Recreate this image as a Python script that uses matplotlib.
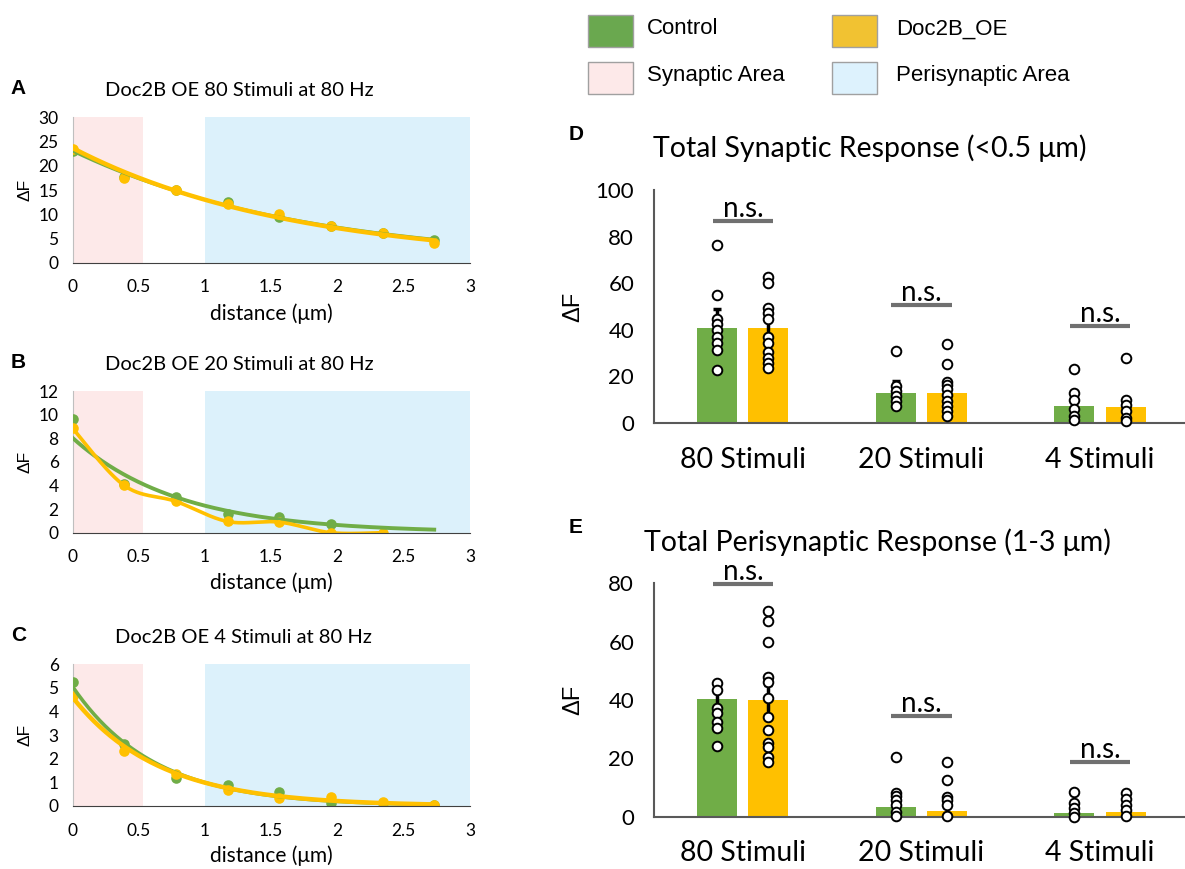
import numpy as np
import matplotlib
matplotlib.use('Agg')
import matplotlib.pyplot as plt
from matplotlib.patches import Rectangle

# ---- data ----
distance = [0, 0.39, 0.78, 1.17, 1.56, 1.95, 2.34, 2.73]

a_ctrl = [23.0, 17.6, 14.9, 12.5, 9.4, 7.6, 6.1, 4.7]
a_oe = [23.4, 17.4, 14.9, 12.2, 10.0, 7.6, 6.1, 4.1]
b_ctrl = [9.6, 4.1, 3.0, 1.6, 1.3, 0.7]
b_oe = [8.85, 4.0, 2.65, 0.95, 0.9, 0.0, 0.0]
c_ctrl = [5.25, 2.6, 1.17, 0.89, 0.6, 0.11, 0.14, 0.06]
c_oe = [4.66, 2.34, 1.34, 0.68, 0.35, 0.39, 0.18, 0.04]

categories = ['80 Stimuli', '20 Stimuli', '4 Stimuli']

d_ctrl = [40.7, 13.1, 7.4]
d_oe = [41.0, 12.9, 6.9]
d_ctrl_sem = [8.2, 5.0, 2.0]
d_oe_sem = [4.0, 3.0, 2.0]
d_ctrl_dots = [[76.4, 54.9, 44.7, 42.7, 40.0, 37.1, 34.3, 31.4, 22.8],
               [31.1, 15.7, 13.8, 11.8, 9.6, 7.5],
               [23.1, 13.0, 9.8, 6.0, 3.1, 1.5]]
d_oe_dots = [[62.8, 60.0, 49.3, 47.1, 44.6, 37.1, 34.3, 30.7, 28.1, 25.7, 23.6],
             [34.0, 25.3, 17.8, 16.4, 14.6, 12.1, 9.6, 7.4, 5.0, 3.1],
             [27.8, 10.0, 7.9, 5.0, 2.0, 1.0]]
d_ns = [86.7, 50.6, 41.7]

e_ctrl = [40.2, 3.4, 1.4]
e_oe = [40.0, 1.95, 1.5]
e_ctrl_sem = [3.5, 1.5, 0.8]
e_oe_sem = [5.0, 1.2, 0.8]
e_ctrl_dots = [[46.0, 43.4, 37.1, 35.4, 32.6, 30.3, 24.3],
               [20.4, 8.2, 7.1, 5.7, 4.0, 1.5, 0.2],
               [8.4, 4.6, 2.9, 1.2, 0.0]]
e_oe_dots = [[70.6, 67.2, 60.0, 47.8, 46.1, 40.8, 34.3, 29.7, 25.2, 24.0, 20.6, 18.7],
             [18.9, 12.6, 6.9, 5.7, 4.0, 0.2],
             [8.0, 6.0, 4.0, 2.3, 0.2]]
e_ns = [79.8, 34.6, 18.6]

GREEN = '#70AD47'
YELLOW = '#FFC000'
PINK = '#FDE9E9'
BLUE = '#DCF1FB'
CAL = 'Lato'
ARIAL = 'Liberation Sans'

plt.rcParams['font.family'] = [CAL, 'DejaVu Sans']


def exp_fit(x, y):
    x = np.asarray(x, float)
    y = np.asarray(y, float)
    b, a = np.polyfit(x, np.log(y), 1)
    xs = np.linspace(0, distance[-1], 200)
    return xs, np.exp(a) * np.exp(b * xs)


def smooth(x, y, n=30):
    # catmull-rom like Excel's "smoothed line"
    pts = np.column_stack([x, y]).astype(float)
    P = np.vstack([pts[0], pts, pts[-1]])
    t = np.linspace(0, 1, n)[:, None]
    out = []
    for i in range(1, len(P) - 2):
        p0, p1, p2, p3 = P[i - 1], P[i], P[i + 1], P[i + 2]
        seg = 0.5 * (2 * p1 + (-p0 + p2) * t + (2 * p0 - 5 * p1 + 4 * p2 - p3) * t ** 2
                     + (-p0 + 3 * p1 - 3 * p2 + p3) * t ** 3)
        out.append(seg)
    out = np.vstack(out)
    return out[:, 0], out[:, 1]


def dist_panel(ax, ctrl, oe, ymax, ystep, title, letter, oe_smooth=False, gw=2.0, tx=0.42):
    ax.axvspan(0, 0.53, color=PINK, zorder=0, lw=0)
    ax.axvspan(1.0, 3.0, color=BLUE, zorder=0, lw=0)
    xc = distance[:len(ctrl)]
    xo = distance[:len(oe)]
    ax.scatter(xc, ctrl, s=58, color=GREEN, zorder=3, lw=0)
    ax.scatter(xo, oe, s=58, color=YELLOW, zorder=3, lw=0)
    xs, ys = exp_fit(xc, ctrl)
    ax.plot(xs, ys, color=GREEN, lw=gw, zorder=4)
    if oe_smooth:
        sx, sy = smooth(xo, oe)
        ax.plot(sx, sy, color=YELLOW, lw=2.6, zorder=4)
    else:
        xs, ys = exp_fit(xo, oe)
        ax.plot(xs, ys, color=YELLOW, lw=3.2, zorder=4)
    ax.set_xlim(0, 3)
    ax.set_ylim(0, ymax)
    ax.set_xticks([0, 0.5, 1, 1.5, 2, 2.5, 3])
    ax.set_xticklabels(['0', '0.5', '1', '1.5', '2', '2.5', '3'])
    ax.set_yticks(np.arange(0, ymax + 0.01, ystep))
    ax.tick_params(length=0, labelsize=12.5)
    ax.tick_params(axis='x', pad=12)
    ax.tick_params(axis='y', pad=10)
    for s in ['top', 'right']:
        ax.spines[s].set_visible(False)
    ax.spines['left'].set_color('#BFBFBF')
    ax.spines['bottom'].set_color('#404040')
    ax.spines['bottom'].set_zorder(5)
    ax.set_xlabel('distance (μm)', fontsize=15)
    ax.xaxis.set_label_coords(0.5, -0.28)
    ax.set_ylabel('ΔF', fontsize=12.5, family=ARIAL)
    ax.yaxis.set_label_coords(-0.10, 0.5)
    ax.set_title(title, fontsize=14.5, pad=15, x=tx)
    ax.text(-0.155, 1.2, letter, transform=ax.transAxes, fontsize=15,
            fontweight='bold', family=ARIAL, ha='left', va='center')


def bar_panel(ax, ctrl, oe, csem, osem, cdots, odots, ns, ymax, ystep, title, letter, tx):
    x = np.arange(len(categories))
    off, w = 0.143, 0.224
    ax.bar(x - off, ctrl, w, color=GREEN, zorder=1)
    ax.bar(x + off, oe, w, color=YELLOW, zorder=1)
    ax.errorbar(x - off, ctrl, yerr=csem, fmt='none', ecolor='black', elinewidth=2.5,
                capsize=3, capthick=2.5, zorder=2)
    ax.errorbar(x + off, oe, yerr=osem, fmt='none', ecolor='black', elinewidth=2.5,
                capsize=3, capthick=2.5, zorder=2)
    for i in range(len(categories)):
        ax.scatter([x[i] - off] * len(cdots[i]), cdots[i], s=48, facecolor='white',
                   edgecolor='black', lw=1.4, zorder=3, clip_on=False)
        ax.scatter([x[i] + off] * len(odots[i]), odots[i], s=48, facecolor='white',
                   edgecolor='black', lw=1.4, zorder=3, clip_on=False)
        ax.plot([x[i] - 0.17, x[i] + 0.17], [ns[i], ns[i]], color='#707070', lw=3,
                clip_on=False, solid_capstyle='butt')
        ax.annotate('n.s.', (x[i], ns[i]), xytext=(0, 3), textcoords='offset points',
                    ha='center', va='baseline', fontsize=20, annotation_clip=False)
    ax.set_xlim(-0.5, 2.476)
    ax.set_ylim(0, ymax)
    ax.set_xticks(x)
    ax.set_xticklabels(categories)
    ax.set_yticks(np.arange(0, ymax + 0.01, ystep))
    ax.tick_params(length=0)
    ax.tick_params(axis='x', pad=17, labelsize=20.5)
    ax.tick_params(axis='y', pad=14, labelsize=16)
    for s in ['top', 'right']:
        ax.spines[s].set_visible(False)
    for s in ['left', 'bottom']:
        ax.spines[s].set_color('#595959')
        ax.spines[s].set_linewidth(1.5)
    ax.set_ylabel('ΔF', fontsize=17, family=ARIAL)
    ax.yaxis.set_label_coords(-0.13, 0.5)
    ax.set_title(title, fontsize=20.5, pad=23.5, x=tx)
    ax.text(-0.16, 1.24, letter, transform=ax.transAxes, fontsize=15,
            fontweight='bold', family=ARIAL, ha='left', va='center')


fig = plt.figure(figsize=(11.85, 8.69), dpi=100)

axA = fig.add_axes([0.0612, 0.6977, 0.3354, 0.1673])
axB = fig.add_axes([0.0612, 0.3870, 0.3354, 0.1630])
axC = fig.add_axes([0.0612, 0.0725, 0.3354, 0.1634])
dist_panel(axA, a_ctrl, a_oe, 30, 5, 'Doc2B OE 80 Stimuli at 80 Hz', 'A')
dist_panel(axB, b_ctrl, b_oe, 12, 2, 'Doc2B OE 20 Stimuli at 80 Hz', 'B', oe_smooth=True, gw=2.8)
dist_panel(axC, c_ctrl, c_oe, 6, 1, 'Doc2B OE 4 Stimuli at 80 Hz', 'C', gw=2.6, tx=0.43)

axD = fig.add_axes([0.5516, 0.5132, 0.4484, 0.2681])
axE = fig.add_axes([0.5516, 0.0602, 0.4484, 0.2685])
bar_panel(axD, d_ctrl, d_oe, d_ctrl_sem, d_oe_sem, d_ctrl_dots, d_oe_dots, d_ns,
          100, 20, 'Total Synaptic Response (<0.5 μm)', 'D', 0.407)
bar_panel(axE, e_ctrl, e_oe, e_ctrl_sem, e_oe_sem, e_ctrl_dots, e_oe_dots, e_ns,
          80, 20, 'Total Perisynaptic Response (1-3 μm)', 'E', 0.422)

# legend boxes
legend_items = [('Control', '#6AA84F', 588, 15, 647), ('Doc2B_OE', '#F1C232', 832, 15, 896),
                ('Synaptic Area', PINK, 588, 62, 647), ('Perisynaptic Area', '#DDF2FD', 832, 62, 896)]
W, H = 1185.0, 869.0
for label, col, px, py, tx in legend_items:
    fig.add_artist(Rectangle((px / W, 1 - (py + 32) / H), 45 / W, 32 / H,
                             transform=fig.transFigure, facecolor=col,
                             edgecolor='#A0A0A0', lw=1))
    fig.text(tx / W, 1 - (py + 14) / H, label, fontsize=16, family=ARIAL,
             ha='left', va='center')

fig.savefig('out.png', dpi=100)
